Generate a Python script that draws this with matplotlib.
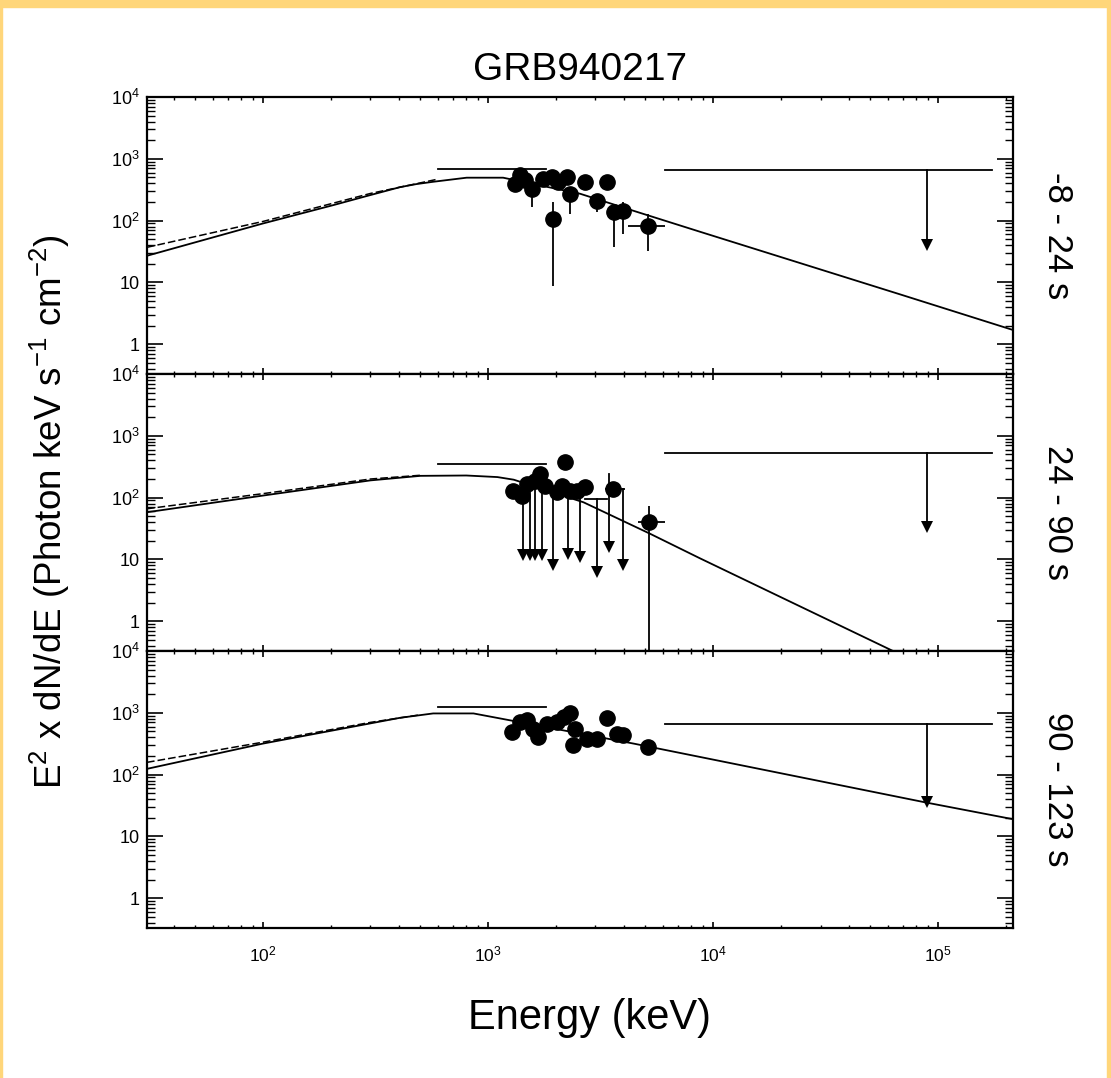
import matplotlib
matplotlib.use("Agg")
import matplotlib.pyplot as plt
import matplotlib.ticker as ticker
from matplotlib.patches import Rectangle
import numpy as np

plt.rcParams['font.family'] = ['Liberation Sans', 'DejaVu Sans']
plt.rcParams['mathtext.fontset'] = 'custom'
plt.rcParams['mathtext.rm'] = 'Liberation Sans'
plt.rcParams['mathtext.it'] = 'Liberation Sans:italic'
plt.rcParams['mathtext.bf'] = 'Liberation Sans:bold'
plt.rcParams['mathtext.default'] = 'regular'

title = 'GRB940217'
intervals = ['-8 - 24 s', '24 - 90 s', '90 - 123 s']

xtick_vals = [1e2, 1e3, 1e4, 1e5]
xtick_labels = ['$10^2$', '$10^3$', '$10^4$', '$10^5$']
ytick_vals = [1, 10, 100, 1000, 10000]
ytick_labels = ['1', '10', '$10^2$', '$10^3$', '$10^4$']

# best-fit spectral model (keV, E^2 dN/dE)
model1_e = [30.5, 100, 205, 289, 406, 480, 570, 803, 1166, 2565, 4406, 8750, 6.78e4, 2.15e5]
model1_f = [27, 90, 178, 250, 348, 390, 425, 495, 495, 272, 145, 66, 6.4, 1.7]
model2_e = [30.5, 100, 300, 500, 800, 1100, 1300, 2655, 5248, 8750, 2.0e4, 6.3e4, 1.0e5]
model2_f = [58, 108, 190, 225, 228, 215, 195, 84, 26, 10.4, 2.45, 0.33, 0.15]
model3_e = [30.5, 100, 406, 570, 861, 1130, 4426, 8750, 8.75e4, 2.15e5]
model3_f = [124, 318, 830, 977, 977, 811, 318, 193, 35.6, 19]

# low-energy model envelope (dashed)
dash1_e = [30.5, 100, 300, 600]
dash1_f = [37, 97, 275, 470]
dash2_e = [30.5, 100, 300, 500]
dash2_f = [66, 116, 200, 230]
dash3_e = [30.5, 100, 300, 500]
dash3_f = [158, 335, 700, 930]

# 0.6 - 1.8 MeV band flux
band_e = [600, 1800]
band_f = [675, 350, 1225]

# high-energy upper limits
ul_e = 8.9e4
ul_elo = 6.1e3
ul_ehi = 1.74e5
ul_f = [650, 530, 647]
ul_tip = [40, 34, 36]

# interval 1 spectrum
p1_e = [1318, 1387, 1460, 1564, 1762, 1919, 1950, 2052, 2238, 2313, 2699, 3043, 3371, 3609, 3993, 5157]
p1_f = [395, 539, 447, 328, 476, 506, 107, 420, 506, 272, 420, 211, 420, 136, 145, 83]
p1_lo = [395, 539, 447, 164, 476, 506, 8.8, 420, 506, 128, 420, 136, 420, 37, 61, 32.5]
p1_hi = [395, 539, 447, 328, 476, 506, 199, 420, 506, 272, 420, 211, 420, 136, 199, 128]
p1_elo = [1318, 1387, 1460, 1564, 1762, 1919, 1950, 2052, 2238, 2313, 2699, 3043, 3371, 3609, 3993, 4204]
p1_ehi = [1318, 1387, 1460, 1564, 1762, 1919, 1950, 2052, 2238, 2313, 2699, 3043, 3371, 3609, 3993, 6118]

# interval 2 spectrum
p2_e = [1294, 1413, 1487, 1619, 1703, 1791, 2018, 2127, 2198, 2313, 2478, 2699, 3606, 5210]
p2_f = [130, 108, 166, 188, 241, 156, 122, 156, 371, 130, 130, 147, 138, 40]
p2_lo = [130, 108, 166, 188, 241, 156, 122, 156, 371, 130, 130, 147, 138, 0.01]
p2_hi = [130, 108, 166, 188, 241, 156, 122, 156, 371, 130, 130, 147, 138, 74]
p2_elo = [1294, 1413, 1487, 1619, 1703, 1791, 2018, 2127, 2198, 2313, 2478, 2699, 3311, 4641]
p2_ehi = [1294, 1413, 1487, 1619, 1703, 1791, 2018, 2127, 2198, 2313, 2478, 2699, 4064, 6120]
a2_e = [1435, 1538, 1619, 1733, 1950, 2274, 2565, 3043, 3450, 3993]
a2_top = [130, 160, 188, 200, 150, 130, 130, 95, 241, 138]
a2_tip = [11.6, 11.6, 11.6, 11.6, 8.0, 12.4, 10.9, 6.2, 15.8, 8.0]
a2_elo = [1435, 1538, 1619, 1733, 1950, 2274, 2565, 2700, 3450, 3993]
a2_ehi = [1435, 1538, 1619, 1733, 1950, 2274, 2565, 3370, 3450, 3993]

# interval 3 spectrum
p3_e = [1273, 1387, 1487, 1589, 1673, 1824, 2018, 2163, 2313, 2436, 2393, 2747, 3043, 3371, 3730, 3993, 5157]
p3_f = [492, 716, 761, 557, 408, 671, 716, 863, 977, 557, 298, 383, 383, 811, 462, 434, 281]

models = [(model1_e, model1_f), (model2_e, model2_f), (model3_e, model3_f)]
dashes = [(dash1_e, dash1_f), (dash2_e, dash2_f), (dash3_e, dash3_f)]

W, H = 1111, 1078
fig = plt.figure(figsize=(W / 100, H / 100), dpi=100)
fig.patch.set_facecolor('white')

frame = '#FFD67A'
fig.add_artist(Rectangle((0, 1 - 7 / H), 1, 7 / H, transform=fig.transFigure, color=frame, zorder=0))
fig.add_artist(Rectangle((0, 0), 2 / W, 1, transform=fig.transFigure, color=frame, zorder=0))
fig.add_artist(Rectangle((1 - 4 / W, 0), 4 / W, 1, transform=fig.transFigure, color=frame, zorder=0))

x0, x1 = 147, 1013
top, ph = 97, 277
lw = 1.3
axes = []
for i in range(3):
    ax = fig.add_axes([x0 / W, 1 - (top + ph * (i + 1)) / H, (x1 - x0) / W, ph / H])
    axes.append(ax)
    ax.set_xscale('log')
    ax.set_yscale('log')
    ax.set_xlim(30.5, 2.15e5)
    ax.set_ylim(0.33, 1e4)

    me, mf = models[i]
    ax.plot(me, mf, color='k', lw=lw)
    de, df = dashes[i]
    ax.plot(de, df, color='k', lw=1.1, ls=(0, (5, 2)))

    ax.plot(band_e, [band_f[i]] * 2, color='k', lw=lw)

    ax.plot([ul_elo, ul_ehi], [ul_f[i]] * 2, color='k', lw=lw)
    ax.plot([ul_e, ul_e], [ul_f[i], ul_tip[i]], color='k', lw=lw)
    ax.plot([ul_e], [ul_tip[i]], marker='v', color='k', ms=8, mew=0)

    for s in ax.spines.values():
        s.set_linewidth(1.6)

    ax.yaxis.set_major_locator(ticker.FixedLocator(ytick_vals))
    ax.yaxis.set_major_formatter(ticker.FixedFormatter(ytick_labels))
    ax.yaxis.set_minor_locator(ticker.LogLocator(base=10, subs=np.arange(2, 10), numticks=20))
    ax.yaxis.set_minor_formatter(ticker.NullFormatter())
    ax.xaxis.set_major_locator(ticker.FixedLocator(xtick_vals))
    ax.xaxis.set_major_formatter(ticker.FixedFormatter(xtick_labels))
    ax.xaxis.set_minor_locator(ticker.LogLocator(base=10, subs=np.arange(2, 10), numticks=20))
    ax.xaxis.set_minor_formatter(ticker.NullFormatter())

    ax.tick_params(axis='y', which='major', direction='in', length=11.5, width=1.2,
                   left=True, right=True, labelsize=13, pad=5)
    ax.tick_params(axis='y', which='minor', direction='in', length=5.5, width=1.0,
                   left=True, right=True)
    ax.tick_params(axis='x', which='major', direction='in', length=4.5, width=1.2,
                   top=True, bottom=True, labelsize=12.5, pad=12)
    ax.tick_params(axis='x', which='minor', direction='in', length=2.5, width=1.0,
                   top=True, bottom=True)
    if i < 2:
        ax.tick_params(axis='x', labelbottom=False)

    fig.text(1057 / W, 1 - (top + ph * (i + 0.5)) / H, intervals[i], rotation=270,
             ha='center', va='center', fontsize=25)

ms = 11
p1_e, p1_f = np.array(p1_e), np.array(p1_f)
axes[0].errorbar(p1_e, p1_f,
                 yerr=[p1_f - np.array(p1_lo), np.array(p1_hi) - p1_f],
                 xerr=[p1_e - np.array(p1_elo), np.array(p1_ehi) - p1_e],
                 fmt='o', color='k', ms=ms, elinewidth=lw, capsize=0)

p2_e, p2_f = np.array(p2_e), np.array(p2_f)
for e, t, tip, elo, ehi in zip(a2_e, a2_top, a2_tip, a2_elo, a2_ehi):
    axes[1].plot([e, e], [t, tip], color='k', lw=lw)
    if ehi > elo:
        axes[1].plot([elo, ehi], [t, t], color='k', lw=lw)
    axes[1].plot([e], [tip], marker='v', color='k', ms=8, mew=0)
axes[1].errorbar(p2_e, p2_f,
                 yerr=[p2_f - np.array(p2_lo), np.array(p2_hi) - p2_f],
                 xerr=[p2_e - np.array(p2_elo), np.array(p2_ehi) - p2_e],
                 fmt='o', color='k', ms=ms, elinewidth=lw, capsize=0)

axes[2].plot(p3_e, p3_f, 'o', color='k', ms=ms)

fig.text(580 / W, 1 - 70 / H, title, ha='center', va='center', fontsize=28)
fig.text(590 / W, 1 - 1018 / H, 'Energy (keV)', ha='center', va='center', fontsize=30)
fig.text(50 / W, 1 - 512 / H, r'E$^2$ x dN/dE (Photon keV s$^{-1}$ cm$^{-2}$)',
         rotation=90, ha='center', va='center', fontsize=26.5)

fig.savefig('out.png', dpi=100)
